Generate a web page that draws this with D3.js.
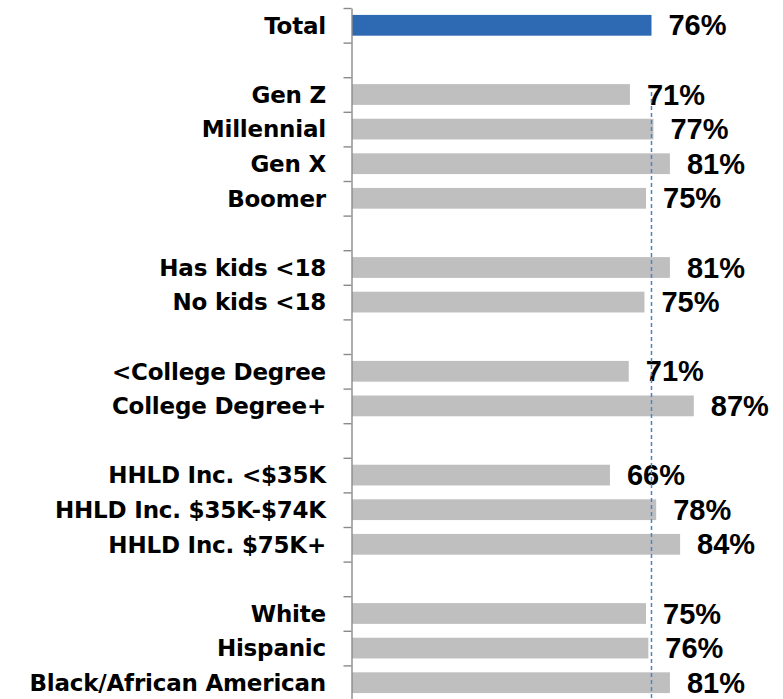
<!DOCTYPE html>
<html>
<head>
<meta charset="utf-8">
<script src="https://cdn.jsdelivr.net/npm/d3@7"></script>
<style>
  body { margin: 0; background: #fff; }
  .cat { font-family: "DejaVu Sans", sans-serif; font-weight: bold; font-size: 23px; letter-spacing: -0.2px; fill: #000; }
  .val { font-family: "Liberation Sans", Arial, sans-serif; font-weight: bold; font-size: 29px; fill: #000; }
</style>
</head>
<body>
<div class="chart"></div>
<script>
// Data: empty strings are spacer rows between groups
const categories = [
  'Total', '',
  'Gen Z', 'Millennial', 'Gen X', 'Boomer', '',
  'Has kids <18', 'No kids <18', '',
  '<College Degree', 'College Degree+', '',
  'HHLD Inc. <$35K', 'HHLD Inc. $35K-$74K', 'HHLD Inc. $75K+', '',
  'White', 'Hispanic', 'Black/African American'
];
const values = [
  76.4, null,
  70.9, 76.9, 81.1, 75.0, null,
  81.1, 74.6, null,
  70.6, 87.2, null,
  65.8, 77.6, 83.7, null,
  75.0, 75.6, 81.1
];
const totalValue = values[0];

// Layout
const width = 783;
const height = 699;
const axisX = 352;
const topY = 8;
const step = 34.6;
const n = categories.length;

const svg = d3.select('.chart')
  .append('svg')
  .attr('width', width)
  .attr('height', height);

// Scales
const x = d3.scaleLinear().domain([0, 100]).range([axisX, axisX + 392]);
const y = d3.scaleBand()
  .domain(d3.range(n))
  .range([topY, topY + n * step])
  .paddingInner(0.4)
  .paddingOuter(0.2);
const yEdge = d3.scaleLinear().domain([0, n]).range([topY, topY + n * step]);

const rows = categories.map((c, i) => ({ i, cat: c, v: values[i] }));
const bars = rows.filter(d => d.v != null);

// Bars
svg.selectAll('.bar')
  .data(bars)
  .enter().append('rect')
  .attr('class', 'bar')
  .attr('x', x(0))
  .attr('y', d => y(d.i))
  .attr('width', d => x(d.v) - x(0))
  .attr('height', y.bandwidth())
  .attr('fill', d => d.i === 0 ? '#2E69B4' : '#BFBFBF');

// Y axis: ticks between rows
const axis = svg.append('g')
  .attr('transform', `translate(${axisX - 0.5},0)`)
  .call(d3.axisLeft(yEdge).tickValues(d3.range(n + 1)).tickFormat('').tickSize(8).tickSizeOuter(0));
axis.selectAll('path, line').attr('stroke', '#8A8A8A').attr('stroke-width', 1.4);

// Category labels
svg.selectAll('.cat')
  .data(bars)
  .enter().append('text')
  .attr('class', 'cat')
  .attr('x', 326)
  .attr('y', d => y(d.i) + y.bandwidth() / 2)
  .attr('dy', '0.36em')
  .attr('text-anchor', 'end')
  .text(d => d.cat);

// Value labels
const fmt = d3.format('.0f');
svg.selectAll('.val')
  .data(bars)
  .enter().append('text')
  .attr('class', 'val')
  .attr('x', d => x(d.v) + 17)
  .attr('y', d => y(d.i) + y.bandwidth() / 2)
  .attr('dy', '0.35em')
  .text(d => fmt(d.v) + '%');

// Reference line at Total
svg.append('line')
  .attr('x1', x(totalValue))
  .attr('x2', x(totalValue))
  .attr('y1', y(2) + 8)
  .attr('y2', height)
  .attr('stroke', '#4F82C4')
  .attr('stroke-width', 1.5)
  .attr('stroke-dasharray', '4,3');
</script>
</body>
</html>
